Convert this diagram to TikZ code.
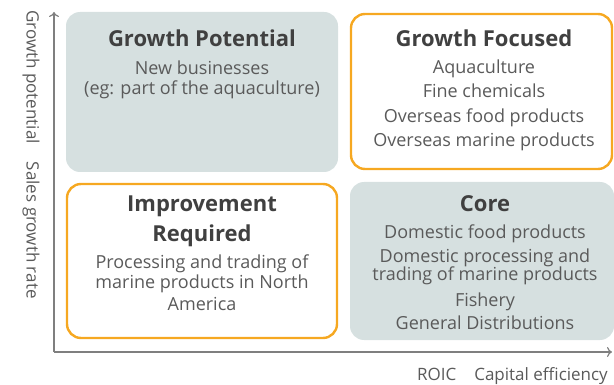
\documentclass[tikz,border=0pt]{standalone}
\usepackage{fontspec}
\setmainfont{Open Sans}
\usetikzlibrary{positioning,arrows.meta}
\definecolor{quadfill}{HTML}{D6E0E0}
\definecolor{quadline}{HTML}{F6A821}
\definecolor{textgray}{HTML}{5A5A5A}
\definecolor{titlegray}{HTML}{404040}
\definecolor{axisgray}{HTML}{7F7F7F}
\tikzset{
    quad/.style={rectangle, rounded corners=14pt, inner sep=0pt},
    quadgray/.style={quad, fill=quadfill},
    quadorange/.style={quad, draw=quadline, line width=2.4pt},
    quadtitle/.style={anchor=base, inner sep=0pt, align=center, text=titlegray,
      font=\fontsize{22}{30}\selectfont\bfseries},
    quadtext/.style={anchor=base, inner sep=0pt, align=center, text=textgray,
      font=\fontsize{18}{24.5}\selectfont},
    axislabel/.style={inner sep=0pt, text=textgray, font=\fontsize{17}{20}\selectfont},
  }

\begin{document}
\begin{tikzpicture}[x=1pt,y=-1pt]
  \useasboundingbox (0,0) rectangle (614,385);
  %axes
  \coordinate (O) at (54,352);
  \coordinate (Ytop) at (54,12);
  \coordinate (Xend) at (612,352);
  \draw[axisgray, line width=1.2pt, -{To[length=5pt,width=10pt]}] (O) -- (Ytop);
  \draw[axisgray, line width=1.2pt, -{To[length=5pt,width=10pt]}] (O) -- (Xend);
  \node[axislabel, rotate=-90, anchor=west] (ylab) at (31,10) {Growth potential\hspace{18pt}Sales growth rate};
  \node[axislabel, anchor=base east] (xlab) at (608,380) {ROIC\hspace{18pt}Capital efficiency};

  %quadrants
  \node[quadgray, minimum width=272pt, minimum height=160pt] (gp) at (202,92) {};
  \node[quadorange, minimum width=261pt, minimum height=155pt] (gf) at (481.5,91.5) {};
  \node[quadorange, minimum width=270pt, minimum height=154pt] (ir) at (202,261) {};
  \node[quadgray, minimum width=264pt, minimum height=158pt] (co) at (482,261) {};

  %growth potential (base = last line)
  \node[quadtitle] (gptitle) at (202,47) {Growth Potential};
  \node[quadtext] (gptext) at (202,95) {New businesses\\[-4.5pt](eg: part of the aquaculture)};
  %growth focused
  \node[quadtitle] (gftitle) at (484,47) {Growth Focused};
  \node[quadtext] (gftext) at (484,147) {Aquaculture\\Fine chemicals\\Overseas food products\\Overseas marine products};
  %improvement required
  \node[quadtitle] (irtitle) at (202,242) {Improvement\\Required};
  \node[quadtext] (irtext) at (202,310) {Processing and trading of\\[-3.5pt]marine products in North\\[-3.5pt]America};
  %core
  \node[quadtitle] (cotitle) at (485,212) {Core};
  \node[quadtext] (cotext) at (485,330) {Domestic food products\\Domestic processing and\\[-7pt]trading of marine products\\[1.5pt]Fishery\\[-0.5pt]General Distributions};
\end{tikzpicture}
\end{document}
